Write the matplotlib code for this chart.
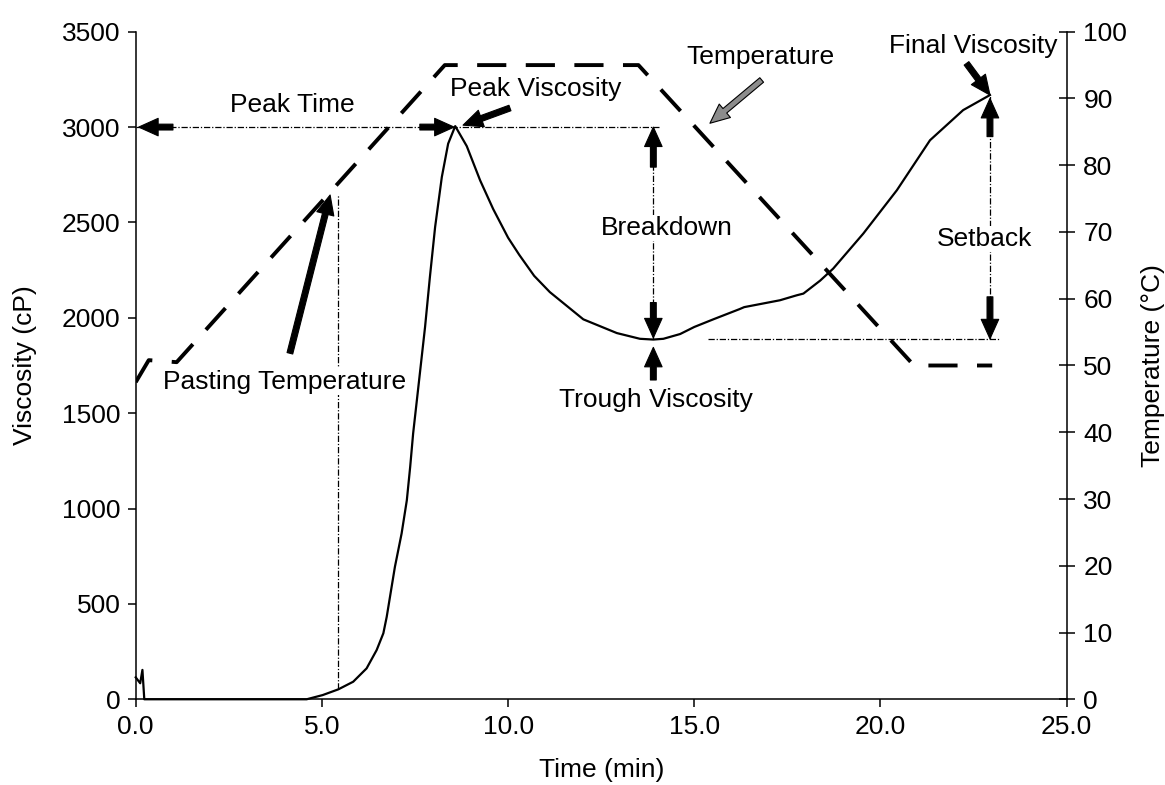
import matplotlib
matplotlib.use("Agg")
from matplotlib import pyplot as plt

plt.rcParams['font.family'] = ['Liberation Sans', 'DejaVu Sans']

# viscosity curve (cP) against time (min)
visc_time = [0.0, 0.12, 0.18, 0.23, 0.5, 1.5, 2.5, 3.5, 4.3, 4.59, 5.02, 5.44, 5.84, 6.2,
             6.47, 6.65, 6.74, 6.96, 7.14, 7.28, 7.37, 7.45, 7.55, 7.77, 7.9, 8.04, 8.22,
             8.39, 8.58, 8.89, 9.25, 9.6, 10.0, 10.3, 10.7, 11.12, 12.02, 12.92, 13.54,
             13.9, 14.17, 14.62, 15.0, 15.51, 16.22, 16.34, 17.3, 17.75, 17.93, 18.38,
             18.73, 19.54, 20.44, 21.33, 22.22, 22.94]
viscosity = [115, 84, 154, 0, 0, 0, 0, 0, 0, 0, 22, 52, 92, 162,
             258, 346, 432, 694, 869, 1043, 1218, 1394, 1568, 1952, 2214, 2476, 2738,
             2913, 3005, 2900, 2720, 2570, 2420, 2330, 2220, 2135, 1992, 1920, 1890,
             1886, 1890, 1915, 1952, 1992, 2046, 2056, 2092, 2118, 2127, 2195,
             2258, 2442, 2669, 2931, 3089, 3168]

# temperature profile (°C)
temp_time = [0.0, 0.35, 1.1, 8.3, 13.5, 20.9, 23.0]
temperature = [47.5, 50.8, 50.5, 95, 95, 50, 50]

# annotation values
peak_time = 8.58
peak_visc = 3000
trough_time = 13.9
trough_visc = 1888
final_time = 22.94
final_visc = 3168
pasting_time = 5.42
pasting_top = 2650

fs = 19

fig = plt.figure(figsize=(11.65, 7.85), dpi=100)
ax = fig.add_axes([0.1165, 0.1092, 0.7991, 0.8504])
ax2 = ax.twinx()

ax.plot(visc_time, viscosity, color="black", lw=1.6, clip_on=False, zorder=3)
ax2.plot(temp_time, temperature, color="black", lw=2.8, linestyle=(0, (7.5, 5)), zorder=3)

ax.set_xlim(0, 25)
ax.set_ylim(0, 3500)
ax2.set_ylim(0, 100)
ax.set_xticks(range(0, 26, 5))
ax.set_xticklabels(["{:.1f}".format(i) for i in range(0, 26, 5)])
ax.set_yticks(range(0, 3501, 500))
ax2.set_yticks(range(0, 101, 10))

for a in (ax, ax2):
    a.spines['top'].set_visible(False)
    for s in a.spines.values():
        s.set_linewidth(1.1)
ax.spines['right'].set_visible(False)
ax2.spines['left'].set_visible(False)
ax2.spines['bottom'].set_visible(False)

ax.tick_params(axis='both', direction='out', length=6, width=1.1, labelsize=fs, pad=5)
ax2.tick_params(axis='y', direction='inout', length=12, width=1.1, labelsize=fs, pad=6)

ax.set_xlabel("Time (min)", fontsize=fs, labelpad=14)
ax.set_ylabel("Viscosity (cP)", fontsize=fs, labelpad=18)
ax2.set_ylabel("Temperature (°C)", fontsize=fs, labelpad=10)

# thin reference lines
ref = dict(color="black", lw=0.9, linestyle=(0, (5, 1.5, 1, 1.5)), zorder=2)
ax.plot([0, 14.05], [peak_visc, peak_visc], **ref)
ax.plot([trough_time, trough_time], [trough_visc, peak_visc], **ref)
ax.plot([15.38, 23.2], [trough_visc, trough_visc], **ref)
ax.plot([final_time, final_time], [trough_visc, final_visc], **ref)
ax.plot([pasting_time, pasting_time], [52, pasting_top], **ref)


def arrow(tail, tip, fc="black"):
    ax.annotate("", xy=tip, xytext=tail, zorder=5,
                arrowprops=dict(arrowstyle="simple,head_length=1.0,head_width=0.9,tail_width=0.3",
                                mutation_scale=14, fc=fc, ec="black", lw=0.8,
                                shrinkA=0, shrinkB=0))


arrow((1.0, peak_visc), (0.08, peak_visc))
arrow((7.63, peak_visc), (peak_time - 0.03, peak_visc))
arrow((10.05, 3100), (8.79, 3010))
arrow((16.81, 3247), (15.42, 3020), fc="0.55")
arrow((22.31, 3334), (22.94, 3168))
arrow((trough_time, 2790), (trough_time, 3000))
arrow((trough_time, 2080), (trough_time, 1895))
arrow((trough_time, 1674), (trough_time, 1845))
arrow((final_time, 2950), (final_time, 3150))
arrow((final_time, 2110), (final_time, 1890))
arrow((4.14, 1814), (5.22, 2644))

txt = dict(fontsize=fs, ha="center", va="center", zorder=4)
white = dict(facecolor="white", edgecolor="none", pad=1)
ax.text(4.21, 3116, "Peak Time", **txt)
ax.text(10.75, 3200, "Peak Viscosity", **txt)
ax.text(16.77, 3367, "Temperature", **txt)
ax.text(22.49, 3425, "Final Viscosity", **txt)
ax.text(14.27, 2471, "Breakdown", bbox=white, **txt)
ax.text(13.97, 1568, "Trough Viscosity", **txt)
ax.text(22.8, 2414, "Setback", bbox=white, **txt)
ax.text(3.99, 1665, "Pasting Temperature", bbox=white, **txt)

plt.savefig("out.png", dpi=100)
